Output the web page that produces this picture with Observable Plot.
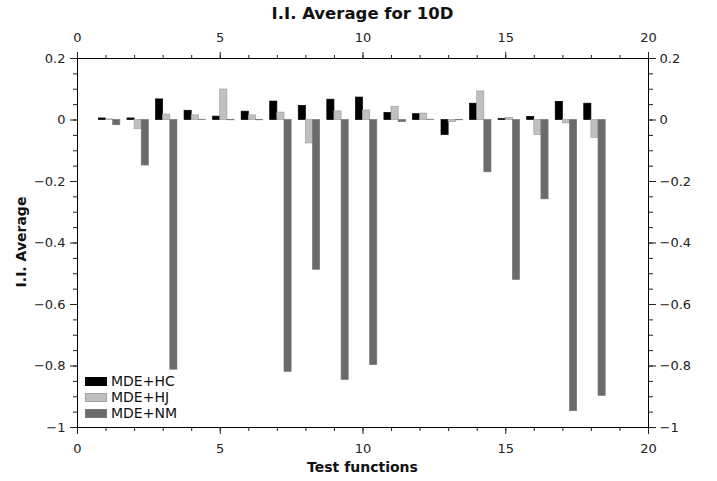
<!DOCTYPE html>
<html><head><meta charset="utf-8">
<script src="https://cdn.jsdelivr.net/npm/d3@7"></script>
<script src="https://cdn.jsdelivr.net/npm/@observablehq/plot@0.6"></script>
<style>
body{margin:0;background:#fff;font-family:"DejaVu Sans",sans-serif}
#wrap{position:relative;width:717px;height:481px;overflow:hidden}
#chart{position:absolute;left:0;top:0}
.lbl{position:absolute;font-weight:bold;color:#111;white-space:nowrap}
#title{top:4px;left:77px;width:571px;text-align:center;font-size:16.5px}
#xlabel{top:459px;left:77px;width:571px;text-align:center;font-size:14px}
#ylabel{left:21px;top:242px;font-size:14px;transform:translate(-50%,-50%) rotate(-90deg)}
#legend{position:absolute;left:85px;top:373px;font-size:14px;color:#111}
.row{display:flex;align-items:center;height:16.2px}
.sw{width:22px;height:9px;margin-right:4px;box-sizing:border-box}
</style></head><body>
<div id="wrap">
<div id="chart"></div>
<div class="lbl" id="title">I.I. Average for 10D</div>
<div class="lbl" id="xlabel">Test functions</div>
<div class="lbl" id="ylabel">I.I. Average</div>
<div id="legend"></div>
</div>
<script>
// Test functions 1..18
const functions = [1,2,3,4,5,6,7,8,9,10,11,12,13,14,15,16,17,18];
const seriesNames = ["MDE+HC","MDE+HJ","MDE+NM"];
const seriesColors = ["#000000","#c0c0c0","#6b6b6b"];
const seriesEdges = ["#000000","#a0a0a0","#777777"];
const hcValues = [0.005,0.005,0.067,0.030,0.011,0.027,0.060,0.046,0.066,0.073,0.023,0.019,-0.049,0.053,0.003,0.010,0.059,0.053];
const hjValues = [0.002,-0.030,0.018,0.015,0.099,0.015,0.024,-0.076,0.028,0.031,0.043,0.021,-0.007,0.093,0.007,-0.049,-0.011,-0.058];
const nmValues = [-0.017,-0.148,-0.812,0.001,-0.001,-0.001,-0.819,-0.487,-0.845,-0.797,-0.007,0.001,-0.001,-0.170,-0.520,-0.258,-0.947,-0.897];
const xMajorTicks = [0,5,10,15,20];
const xMinorTicks = [0,1,2,3,4,5,6,7,8,9,10,11,12,13,14,15,16,17,18,19,20];
const yMajorTicks = [-1,-0.8,-0.6,-0.4,-0.2,0,0.2];
const yMinorTicks = [-1,-0.95,-0.9,-0.85,-0.8,-0.75,-0.7,-0.65,-0.6,-0.55,-0.5,-0.45,-0.4,-0.35,-0.3,-0.25,-0.2,-0.15,-0.1,-0.05,0,0.05,0.1,0.15,0.2];

const seriesValues = [hcValues, hjValues, nmValues];
const barWidth = 0.25;
const offsets = [-0.25, 0, 0.25];
const rows = [];
seriesNames.forEach((s, k) => {
  functions.forEach((f, i) => {
    rows.push({series: s, f, x1: f + offsets[k], x2: f + offsets[k] + barWidth, value: seriesValues[k][i]});
  });
});

const fmt = d => d === 0 ? "0" : d3.format("")(Math.round(d * 10) / 10);

const chart = Plot.plot({
  width: 717, height: 481,
  marginTop: 58, marginRight: 69, marginBottom: 54, marginLeft: 77,
  style: {fontFamily: "DejaVu Sans, sans-serif", fontSize: "13px", color: "#222", background: "#fff"},
  x: {type: "linear", domain: [0, 20]},
  y: {type: "linear", domain: [-1, 0.2]},
  color: {domain: seriesNames, range: seriesColors},
  marks: [
    Plot.rect(rows, {x1: "x1", x2: "x2", y1: () => 0, y2: "value", fill: "series",
      stroke: d => seriesEdges[seriesNames.indexOf(d.series)], strokeWidth: 0.7}),
    Plot.frame({stroke: "#000", strokeWidth: 1}),
    Plot.axisX({anchor: "bottom", ticks: xMinorTicks, tickSize: 4, tickFormat: () => "", label: null}),
    Plot.axisX({anchor: "bottom", ticks: xMajorTicks, tickSize: 7, tickPadding: 9, tickFormat: d => String(d), label: null, fontSize: 13}),
    Plot.axisX({anchor: "top", ticks: xMinorTicks, tickSize: 4, tickFormat: () => "", label: null}),
    Plot.axisX({anchor: "top", ticks: xMajorTicks, tickSize: 7, tickPadding: 10, tickFormat: d => String(d), label: null, fontSize: 13}),
    Plot.axisY({anchor: "left", ticks: yMinorTicks, tickSize: 4, tickFormat: () => "", label: null}),
    Plot.axisY({anchor: "left", ticks: yMajorTicks, tickSize: 7, tickPadding: 5, tickFormat: fmt, label: null, fontSize: 13}),
    Plot.axisY({anchor: "right", ticks: yMinorTicks, tickSize: 4, tickFormat: () => "", label: null}),
    Plot.axisY({anchor: "right", ticks: yMajorTicks, tickSize: 7, tickPadding: 4, tickFormat: fmt, label: null, fontSize: 13})
  ]
});
document.getElementById("chart").appendChild(chart);

const legend = document.getElementById("legend");
seriesNames.forEach((s, k) => {
  const row = document.createElement("div");
  row.className = "row";
  const sw = document.createElement("div");
  sw.className = "sw";
  sw.style.background = seriesColors[k];
  sw.style.border = "1px solid " + seriesEdges[k];
  const t = document.createElement("span");
  t.textContent = s;
  row.appendChild(sw); row.appendChild(t);
  legend.appendChild(row);
});
</script>
</body></html>
